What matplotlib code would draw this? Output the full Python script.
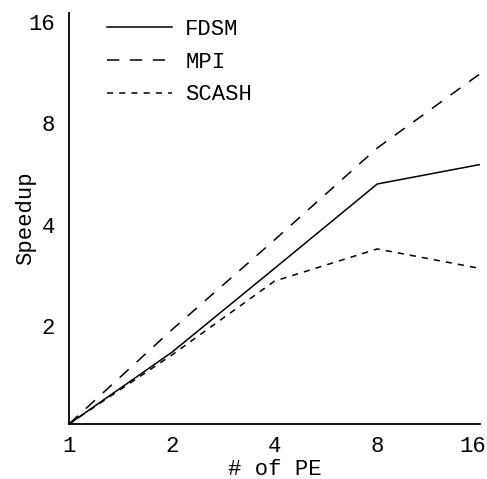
import matplotlib
matplotlib.use("Agg")
import matplotlib.pyplot as plt
import matplotlib.transforms as mtransforms
from matplotlib.ticker import FixedLocator, FixedFormatter

# data
pe = [1, 2, 4, 8, 16]
fdsm = [1.0, 1.63, 2.89, 5.14, 5.87]
mpi = [1.0, 1.90, 3.51, 6.57, 10.9]
scash = [1.0, 1.60, 2.65, 3.30, 2.89]

x_ticks = [1, 2, 4, 8, 16]
y_ticks = [2, 4, 8, 16]

plt.rcParams['font.family'] = ['Liberation Mono', 'DejaVu Sans Mono']
plt.rcParams['font.size'] = 16

fig = plt.figure(figsize=(4.87, 4.79), dpi=100)
ax = fig.add_axes([69 / 487, 1 - 424 / 479, 411 / 487, 411 / 479])

lw = 1.1
ax.plot(pe, fdsm, color='black', linewidth=lw, label='FDSM')
ax.plot(pe, mpi, color='black', linewidth=lw, linestyle=(0, (8, 7)), label='MPI')
ax.plot(pe, scash, color='black', linewidth=lw, linestyle=(0, (4, 4)), label='SCASH')

ax.set_xscale('log', base=2)
ax.set_yscale('log', base=2)
ax.set_xlim(1, 16)
ax.set_ylim(1, 16.5)

ax.xaxis.set_major_locator(FixedLocator(x_ticks))
ax.xaxis.set_major_formatter(FixedFormatter([str(v) for v in x_ticks]))
ax.xaxis.set_minor_locator(FixedLocator([]))
ax.yaxis.set_major_locator(FixedLocator(y_ticks))
ax.yaxis.set_major_formatter(FixedFormatter([str(v) for v in y_ticks]))
ax.yaxis.set_minor_locator(FixedLocator([]))
ax.tick_params(axis='x', length=0, pad=9)
ax.tick_params(axis='y', length=0, pad=10)

# nudge labels like the original: last x label pulled inside, y labels a bit lower
fig.canvas.draw()
xlabels = ax.get_xticklabels()
xlabels[-1].set_transform(xlabels[-1].get_transform() +
                          mtransforms.ScaledTranslation(-7 / 100, 0, fig.dpi_scale_trans))
for lab in ax.get_yticklabels():
    lab.set_transform(lab.get_transform() +
                      mtransforms.ScaledTranslation(0, -4 / 100, fig.dpi_scale_trans))

for side in ['top', 'right']:
    ax.spines[side].set_visible(False)
for side in ['left', 'bottom']:
    ax.spines[side].set_linewidth(1.3)

ax.set_xlabel('# of PE', labelpad=1)
ax.set_ylabel('Speedup', labelpad=-5.5)

ax.legend(loc='upper left', bbox_to_anchor=(0.0925, 0.986), frameon=False,
          borderpad=0, borderaxespad=0, handlelength=2.93, handletextpad=0.59,
          labelspacing=0.53)

fig.savefig('out.png', dpi=100)
